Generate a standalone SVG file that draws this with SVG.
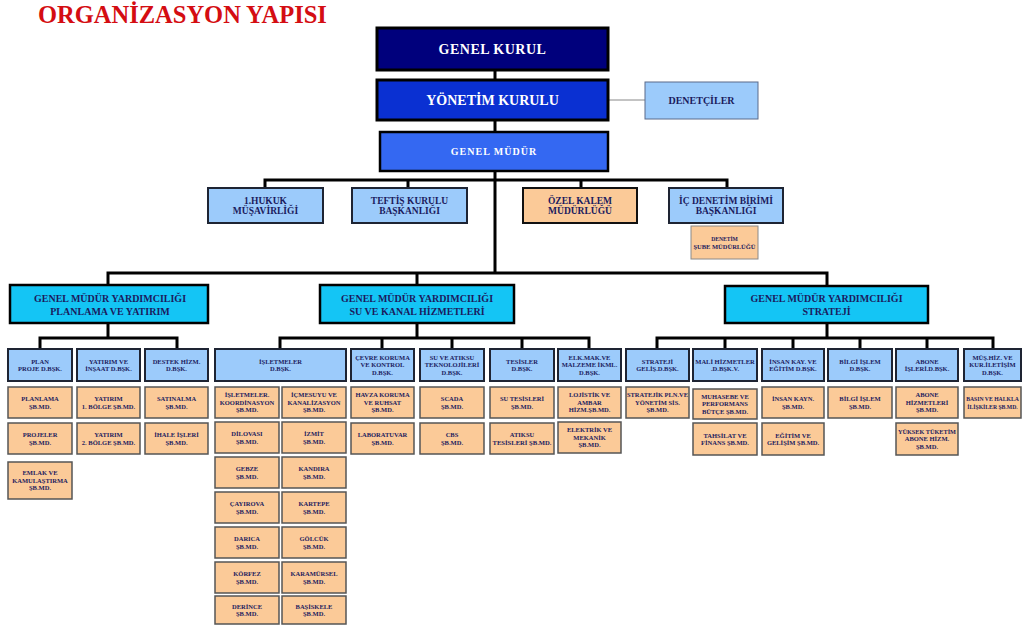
<svg xmlns="http://www.w3.org/2000/svg" width="1022" height="625" viewBox="0 0 1022 625">
<style>
text{font-family:"Liberation Serif","Times New Roman",serif;font-weight:bold;text-anchor:middle;fill:#1b1b5e}
.title{font-size:24.5px;fill:#d40d12;text-anchor:start}
.big{font-size:14px;fill:#fff}
.gm{font-size:10px;fill:#fff;letter-spacing:1px}
.r2{font-size:9.5px}
.gmy{font-size:10px}
.s{font-size:6.5px}
.s2{font-size:5.7px}
.xs{font-size:5.6px}
.navy{fill:#00007c;stroke:#000;stroke-width:3}
.blue{fill:#0a30d2;stroke:#000;stroke-width:3}
.mblue{fill:#3468f2;stroke:#000;stroke-width:2.5}
.lb{fill:#9ccbfb;stroke:#1e2433;stroke-width:2}
.lbt{fill:#9ccbfb;stroke:#5a6b8a;stroke-width:1}
.cy{fill:#14c5f5;stroke:#000;stroke-width:2.5}
.pe{fill:#fbca98;stroke:#555;stroke-width:1.5}
.pe2{fill:#fbca98;stroke:#8a8a8a;stroke-width:1}
.pk{fill:#fbca98;stroke:#111;stroke-width:2}
.c{fill:none;stroke:#000;stroke-width:3}
.thin{fill:none;stroke:#888;stroke-width:1}
</style>

<text class="title" x="38" y="23">ORGANİZASYON YAPISI</text>

<g id="connectors">
<path class="c" d="M495,70V80M495,120V132M495,171V273"/>
<path class="thin" d="M608,100H645"/>
<path class="c" d="M265,188V180H727V188M408,180V188M581,180V188"/>
<path class="c" d="M108,285V273H827V285M417,273V285"/>
<path class="c" d="M108,323V338M40,349V338H177V349"/>
<path class="c" d="M417,323V338M280,349V338H589V349M382,338V349M452,338V349M522,338V349"/>
<path class="c" d="M827,323V338M657,349V338H993V349M725,338V349M793,338V349M860,338V349M927,338V349"/>
</g>

<g id="genel-kurul"><rect class="navy" x="377" y="28" width="231" height="42"/><text class="big" x="492.5" y="54" letter-spacing="0.5">GENEL KURUL</text></g>
<g id="yonetim-kurulu"><rect class="blue" x="377" y="80" width="231" height="40"/><text class="big" x="492.5" y="105">YÖNETİM KURULU</text></g>
<g id="genel-mudur"><rect class="mblue" x="380" y="132" width="228" height="39"/><text class="gm" x="494" y="155">GENEL MÜDÜR</text></g>
<g id="denetciler"><rect class="lbt" x="645" y="82" width="113" height="37"/><text class="gmy" x="701.5" y="104">DENETÇİLER</text></g>

<g id="hukuk"><rect class="lb" x="208" y="188" width="115" height="35"/><text class="r2"><tspan x="265.5" y="203.5">1.HUKUK</tspan><tspan x="265.5" y="214">MÜŞAVİRLİĞİ</tspan></text></g>
<g id="teftis"><rect class="lb" x="352" y="188" width="115" height="35"/><text class="r2"><tspan x="409.5" y="203.5">TEFTİŞ KURULU</tspan><tspan x="409.5" y="214">BAŞKANLIĞI</tspan></text></g>
<g id="ozel-kalem"><rect class="pk" x="523" y="188" width="114" height="35"/><text class="r2"><tspan x="580" y="203.5">ÖZEL KALEM</tspan><tspan x="580" y="214">MÜDÜRLÜĞÜ</tspan></text></g>
<g id="ic-denetim"><rect class="lb" x="669" y="188" width="114" height="35"/><text class="r2"><tspan x="726" y="203.5">İÇ DENETİM BİRİMİ</tspan><tspan x="726" y="214">BAŞKANLIĞI</tspan></text></g>
<g id="denetim-sube"><rect class="pe2" x="691" y="226" width="67" height="33"/><text class="xs"><tspan x="724.5" y="241">DENETİM</tspan><tspan x="724.5" y="248.5" textLength="62" lengthAdjust="spacingAndGlyphs">ŞUBE MÜDÜRLÜĞÜ</tspan></text></g>

<g id="gmy-planlama"><rect class="cy" x="10" y="285" width="198" height="38"/><text class="gmy"><tspan x="110" y="302">GENEL MÜDÜR YARDIMCILIĞI</tspan><tspan x="110" y="315">PLANLAMA VE YATIRIM</tspan></text></g>
<g id="gmy-su-kanal"><rect class="cy" x="320" y="285" width="194" height="38"/><text class="gmy"><tspan x="417" y="302">GENEL MÜDÜR YARDIMCILIĞI</tspan><tspan x="417" y="315">SU VE KANAL HİZMETLERİ</tspan></text></g>
<g id="gmy-strateji"><rect class="cy" x="725" y="286" width="203" height="37"/><text class="gmy"><tspan x="826.5" y="302">GENEL MÜDÜR YARDIMCILIĞI</tspan><tspan x="826.5" y="315">STRATEJİ</tspan></text></g>

<g id="plan-proje"><rect class="lb" x="8" y="349" width="64" height="32"/><text class="s"><tspan x="40" y="363.5">PLAN</tspan><tspan x="40" y="371">PROJE D.BŞK.</tspan></text></g>
<g id="yatirim-insaat"><rect class="lb" x="77" y="349" width="63" height="32"/><text class="s"><tspan x="108.5" y="363.5">YATIRIM VE</tspan><tspan x="108.5" y="371">İNŞAAT D.BŞK.</tspan></text></g>
<g id="destek-hizm"><rect class="lb" x="145" y="349" width="63" height="32"/><text class="s"><tspan x="176.5" y="363.5">DESTEK HİZM.</tspan><tspan x="176.5" y="371">D.BŞK.</tspan></text></g>
<g id="isletmeler"><rect class="lb" x="215" y="349" width="131" height="32"/><text class="s"><tspan x="280.5" y="363.5">İŞLETMELER</tspan><tspan x="280.5" y="371">D.BŞK.</tspan></text></g>
<g id="cevre-koruma"><rect class="lb" x="351" y="349" width="63" height="32"/><text class="s"><tspan x="382.5" y="359.8">ÇEVRE KORUMA</tspan><tspan x="382.5" y="367.3">VE KONTROL</tspan><tspan x="382.5" y="374.8">D.BŞK.</tspan></text></g>
<g id="su-atiksu-tek"><rect class="lb" x="420" y="349" width="64" height="32"/><text class="s"><tspan x="452" y="359.8">SU VE ATIKSU</tspan><tspan x="452" y="367.3">TEKNOLOJİLERİ</tspan><tspan x="452" y="374.8">D.BŞK.</tspan></text></g>
<g id="tesisler"><rect class="lb" x="490" y="349" width="64" height="32"/><text class="s"><tspan x="522" y="363.5">TESİSLER</tspan><tspan x="522" y="371">D.BŞK.</tspan></text></g>
<g id="elk-mak"><rect class="lb" x="558" y="349" width="63" height="32"/><text class="s"><tspan x="589.5" y="359.8">ELK.MAK.VE</tspan><tspan x="589.5" y="367.3">MALZEME İKML.</tspan><tspan x="589.5" y="374.8">D.BŞK.</tspan></text></g>
<g id="strateji-gelis"><rect class="lb" x="626" y="349" width="63" height="32"/><text class="s"><tspan x="657.5" y="363.5">STRATEJİ</tspan><tspan x="657.5" y="371">GELİŞ.D.BŞK.</tspan></text></g>
<g id="mali-hizmetler"><rect class="lb" x="693" y="349" width="64" height="32"/><text class="s"><tspan x="725" y="363.5">MALİ HİZMETLER</tspan><tspan x="725" y="371">.D.BŞK.V.</tspan></text></g>
<g id="insan-kay"><rect class="lb" x="762" y="349" width="62" height="32"/><text class="s"><tspan x="793" y="363.5">İNSAN KAY. VE</tspan><tspan x="793" y="371">EĞİTİM D.BŞK.</tspan></text></g>
<g id="bilgi-islem"><rect class="lb" x="828" y="349" width="64" height="32"/><text class="s"><tspan x="860" y="363.5">BİLGİ İŞLEM</tspan><tspan x="860" y="371">D.BŞK.</tspan></text></g>
<g id="abone-isleri"><rect class="lb" x="896" y="349" width="62" height="32"/><text class="s"><tspan x="927" y="363.5">ABONE</tspan><tspan x="927" y="371">İŞLERİ.D.BŞK.</tspan></text></g>
<g id="mus-hiz"><rect class="lb" x="964" y="349" width="57" height="32"/><text class="s"><tspan x="992.5" y="359.8">MÜŞ.HİZ. VE</tspan><tspan x="992.5" y="367.3">KUR.İLETİŞİM</tspan><tspan x="992.5" y="374.8">D.BŞK.</tspan></text></g>

<g id="planlama-sb"><rect class="pe" x="8" y="387" width="64" height="31"/><text class="s"><tspan x="40" y="401">PLANLAMA</tspan><tspan x="40" y="408.5">ŞB.MD.</tspan></text></g>
<g id="projeler-sb"><rect class="pe" x="8" y="423" width="64" height="31"/><text class="s"><tspan x="40" y="437">PROJELER</tspan><tspan x="40" y="444.5">ŞB.MD.</tspan></text></g>
<g id="emlak-sb"><rect class="pe" x="8" y="462" width="64" height="37"/><text class="s"><tspan x="40" y="475.3">EMLAK VE</tspan><tspan x="40" y="482.8">KAMULAŞTIRMA</tspan><tspan x="40" y="490.3">ŞB.MD.</tspan></text></g>
<g id="yatirim1-sb"><rect class="pe" x="77" y="387" width="63" height="31"/><text class="s"><tspan x="108.5" y="401">YATIRIM</tspan><tspan x="108.5" y="408.5">1. BÖLGE ŞB.MD.</tspan></text></g>
<g id="yatirim2-sb"><rect class="pe" x="77" y="423" width="63" height="31"/><text class="s"><tspan x="108.5" y="437">YATIRIM</tspan><tspan x="108.5" y="444.5">2. BÖLGE ŞB.MD.</tspan></text></g>
<g id="satinalma-sb"><rect class="pe" x="145" y="387" width="63" height="31"/><text class="s"><tspan x="176.5" y="401">SATINALMA</tspan><tspan x="176.5" y="408.5">ŞB.MD.</tspan></text></g>
<g id="ihale-sb"><rect class="pe" x="145" y="423" width="63" height="31"/><text class="s"><tspan x="176.5" y="437">İHALE İŞLERİ</tspan><tspan x="176.5" y="444.5">ŞB.MD.</tspan></text></g>

<g id="isl-koord-sb"><rect class="pe" x="215" y="387" width="64" height="31"/><text class="s"><tspan x="247" y="397.3">İŞLETMELER.</tspan><tspan x="247" y="404.8">KOORDİNASYON</tspan><tspan x="247" y="412.3">ŞB.MD.</tspan></text></g>
<g id="dilovasi-sb"><rect class="pe" x="215" y="422" width="64" height="31"/><text class="s"><tspan x="247" y="436">DİLOVASI</tspan><tspan x="247" y="443.5">ŞB.MD.</tspan></text></g>
<g id="gebze-sb"><rect class="pe" x="215" y="457" width="64" height="31"/><text class="s"><tspan x="247" y="471">GEBZE</tspan><tspan x="247" y="478.5">ŞB.MD.</tspan></text></g>
<g id="cayirova-sb"><rect class="pe" x="215" y="492" width="64" height="31"/><text class="s"><tspan x="247" y="506">ÇAYIROVA</tspan><tspan x="247" y="513.5">ŞB.MD.</tspan></text></g>
<g id="darica-sb"><rect class="pe" x="215" y="527" width="64" height="31"/><text class="s"><tspan x="247" y="541">DARICA</tspan><tspan x="247" y="548.5">ŞB.MD.</tspan></text></g>
<g id="korfez-sb"><rect class="pe" x="215" y="562" width="64" height="31"/><text class="s"><tspan x="247" y="576">KÖRFEZ</tspan><tspan x="247" y="583.5">ŞB.MD.</tspan></text></g>
<g id="derince-sb"><rect class="pe" x="215" y="596" width="64" height="28"/><text class="s"><tspan x="247" y="608.5">DERİNCE</tspan><tspan x="247" y="616">ŞB.MD.</tspan></text></g>

<g id="icmesuyu-sb"><rect class="pe" x="282" y="387" width="64" height="31"/><text class="s"><tspan x="314" y="397.3">İÇMESUYU VE</tspan><tspan x="314" y="404.8">KANALİZASYON</tspan><tspan x="314" y="412.3">ŞB.MD.</tspan></text></g>
<g id="izmit-sb"><rect class="pe" x="282" y="422" width="64" height="31"/><text class="s"><tspan x="314" y="436">İZMİT</tspan><tspan x="314" y="443.5">ŞB.MD.</tspan></text></g>
<g id="kandira-sb"><rect class="pe" x="282" y="457" width="64" height="31"/><text class="s"><tspan x="314" y="471">KANDIRA</tspan><tspan x="314" y="478.5">ŞB.MD.</tspan></text></g>
<g id="kartepe-sb"><rect class="pe" x="282" y="492" width="64" height="31"/><text class="s"><tspan x="314" y="506">KARTEPE</tspan><tspan x="314" y="513.5">ŞB.MD.</tspan></text></g>
<g id="golcuk-sb"><rect class="pe" x="282" y="527" width="64" height="31"/><text class="s"><tspan x="314" y="541">GÖLCÜK</tspan><tspan x="314" y="548.5">ŞB.MD.</tspan></text></g>
<g id="karamursel-sb"><rect class="pe" x="282" y="562" width="64" height="31"/><text class="s"><tspan x="314" y="576">KARAMÜRSEL</tspan><tspan x="314" y="583.5">ŞB.MD.</tspan></text></g>
<g id="basiskele-sb"><rect class="pe" x="282" y="596" width="64" height="28"/><text class="s"><tspan x="314" y="608.5">BAŞİSKELE</tspan><tspan x="314" y="616">ŞB.MD.</tspan></text></g>

<g id="havza-sb"><rect class="pe" x="351" y="387" width="63" height="31"/><text class="s"><tspan x="382.5" y="397.3">HAVZA KORUMA</tspan><tspan x="382.5" y="404.8">VE RUHSAT</tspan><tspan x="382.5" y="412.3">ŞB.MD.</tspan></text></g>
<g id="laboratuvar-sb"><rect class="pe" x="351" y="423" width="63" height="31"/><text class="s"><tspan x="382.5" y="437">LABORATUVAR</tspan><tspan x="382.5" y="444.5">ŞB.MD.</tspan></text></g>
<g id="scada-sb"><rect class="pe" x="420" y="387" width="64" height="31"/><text class="s"><tspan x="452" y="401">SCADA</tspan><tspan x="452" y="408.5">ŞB.MD.</tspan></text></g>
<g id="cbs-sb"><rect class="pe" x="420" y="423" width="64" height="31"/><text class="s"><tspan x="452" y="437">CBS</tspan><tspan x="452" y="444.5">ŞB.MD.</tspan></text></g>
<g id="su-tesisleri-sb"><rect class="pe" x="490" y="387" width="64" height="31"/><text class="s"><tspan x="522" y="401">SU TESİSLERİ</tspan><tspan x="522" y="408.5">ŞB.MD.</tspan></text></g>
<g id="atiksu-tesisleri-sb"><rect class="pe" x="490" y="423" width="64" height="31"/><text class="s"><tspan x="522" y="437">ATIKSU</tspan><tspan x="522" y="444.5" textLength="59" lengthAdjust="spacingAndGlyphs">TESİSLERİ ŞB.MD.</tspan></text></g>
<g id="lojistik-sb"><rect class="pe" x="558" y="387" width="63" height="31"/><text class="s"><tspan x="589.5" y="397.3">LOJİSTİK VE</tspan><tspan x="589.5" y="404.8">AMBAR</tspan><tspan x="589.5" y="412.3">HİZM.ŞB.MD.</tspan></text></g>
<g id="elektrik-sb"><rect class="pe" x="558" y="422" width="63" height="31"/><text class="s"><tspan x="589.5" y="432.3">ELEKTRİK VE</tspan><tspan x="589.5" y="439.8">MEKANİK</tspan><tspan x="589.5" y="447.3">ŞB.MD.</tspan></text></g>

<g id="stratejik-pln-sb"><rect class="pe" x="626" y="387" width="63" height="31"/><text class="s"><tspan x="657.5" y="397.3" textLength="61" lengthAdjust="spacingAndGlyphs">STRATEJİK PLN.VE</tspan><tspan x="657.5" y="404.8">YÖNETİM SİS.</tspan><tspan x="657.5" y="412.3">ŞB.MD.</tspan></text></g>
<g id="muhasebe-sb"><rect class="pe" x="693" y="389" width="64" height="30"/><text class="s"><tspan x="725" y="398.8">MUHASEBE VE</tspan><tspan x="725" y="406.3">PERFORMANS</tspan><tspan x="725" y="413.8">BÜTÇE ŞB.MD.</tspan></text></g>
<g id="tahsilat-sb"><rect class="pe" x="693" y="423" width="64" height="32"/><text class="s"><tspan x="725" y="437.5">TAHSİLAT VE</tspan><tspan x="725" y="445">FİNANS ŞB.MD.</tspan></text></g>
<g id="insan-kayn-sb"><rect class="pe" x="762" y="387" width="62" height="31"/><text class="s"><tspan x="793" y="401">İNSAN KAYN.</tspan><tspan x="793" y="408.5">ŞB.MD.</tspan></text></g>
<g id="egitim-sb"><rect class="pe" x="762" y="423" width="62" height="32"/><text class="s"><tspan x="793" y="437.5">EĞİTİM VE</tspan><tspan x="793" y="445">GELİŞİM ŞB.MD.</tspan></text></g>
<g id="bilgi-islem-sb"><rect class="pe" x="828" y="387" width="64" height="31"/><text class="s"><tspan x="860" y="401">BİLGİ İŞLEM</tspan><tspan x="860" y="408.5">ŞB.MD.</tspan></text></g>
<g id="abone-hizmetleri-sb"><rect class="pe" x="896" y="387" width="62" height="31"/><text class="s"><tspan x="927" y="397.3">ABONE</tspan><tspan x="927" y="404.8">HİZMETLERİ</tspan><tspan x="927" y="412.3">ŞB.MD.</tspan></text></g>
<g id="yuksek-tuketim-sb"><rect class="pe" x="896" y="423" width="62" height="32"/><text class="s"><tspan x="927" y="433.8" textLength="58" lengthAdjust="spacingAndGlyphs">YÜKSEK TÜKETİM</tspan><tspan x="927" y="441.3">ABONE HİZM.</tspan><tspan x="927" y="448.8">ŞB.MD.</tspan></text></g>
<g id="basin-sb"><rect class="pe" x="964" y="387" width="57" height="31"/><text class="s2"><tspan x="992.5" y="401">BASIN VE HALKLA</tspan><tspan x="992.5" y="408.5">İLİŞKİLER ŞB.MD.</tspan></text></g>
</svg>
